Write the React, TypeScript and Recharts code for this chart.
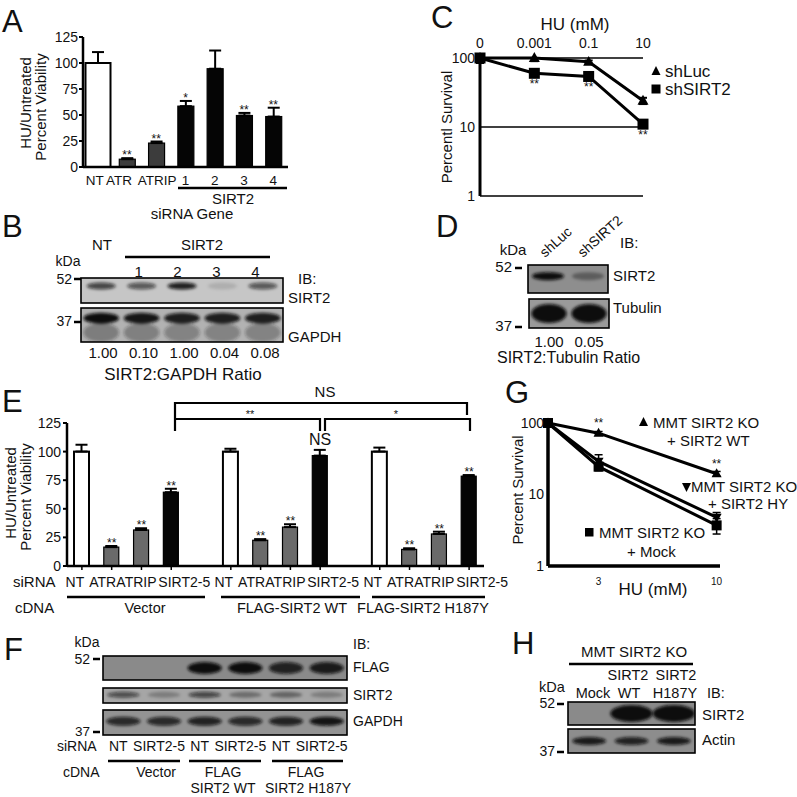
import React from 'react';
import { ComposedChart, Bar, XAxis, YAxis, ErrorBar, Scatter, Line, CartesianGrid, LabelList } from 'recharts';

const FONT = '"Liberation Sans", Arial, Helvetica, sans-serif';
const INK = '#111';

// A: HU viability after siRNA
const aLabels = ['NT', 'ATR', 'ATRIP', '1', '2', '3', '4'];
const aKinds = ['nt', 'ctl', 'ctl', 'si', 'si', 'si', 'si'];
const aValues = [100, 7.5, 23, 58.5, 94.5, 49.5, 48.5];
const aErrors = [10.5, 1, 1.5, 5, 17.5, 2.5, 8.5];
const aSig = ['', '**', '**', '*', '', '**', '**'];

// C: shRNA survival curve
const cDoses = ['0', '0.001', '0.1', '10'];
const cShLuc = [100, 100, 88, 24];
const cShLucErr = [15, 10, 4, 2.5];
const cShSirt2 = [100, 60, 54, 11];
const cShSirt2Err = [15, 4, 5, 1.2];
const cSig = ['', '**', '**', '**'];

// E: rescue experiment
const eGroups = ['Vector', 'FLAG-SIRT2 WT', 'FLAG-SIRT2 H187Y'];
const eSirna = ['NT', 'ATR', 'ATRIP', 'SIRT2-5'];
const eKinds = ['nt', 'ctl', 'ctl', 'si'];
const eValues = [[100, 16.5, 31.5, 64.5], [100, 22.5, 34, 96.5], [100, 14.5, 28, 78.5]];
const eErrors = [[6, 1, 1.5, 3], [2.5, 1, 2.5, 5], [3.5, 1, 2, 1]];
const eSig = [['', '**', '**', '**'], ['', '**', '**', 'NS'], ['', '**', '**', '**']];

// G: MMT SIRT2 KO survival
const gDoses = [0, 3, 10];
const gWt = [100, 72, 19.5];
const gWtErr = [0, 4, 1.5];
const gHy = [100, 29, 4.8];
const gHyErr = [0, 7, 0.8];
const gMock = [100, 24.5, 3.7];
const gMockErr = [0, 3, 0.9];
const gSig = ['', '**', '**'];

// blots (band intensity per lane)
const bLanes = ['NT', '1', '2', '3', '4'];
const bSirt2Band = [0.7, 0.6, 0.9, 0.12, 0.6];
const bGapdhBand = [1, 0.95, 0.9, 0.9, 0.9];
const bRatio = ['1.00', '0.10', '1.00', '0.04', '0.08'];
const dLanes = ['shLuc', 'shSIRT2'];
const dSirt2Band = [1, 0.35];
const dTubulinBand = [1, 1];
const dRatio = ['1.00', '0.05'];
const fSirna = ['NT', 'SIRT2-5', 'NT', 'SIRT2-5', 'NT', 'SIRT2-5'];
const fFlagBand = [0, 0, 1, 1, 0.85, 0.9];
const fSirt2Band = [0.6, 0.25, 0.65, 0.35, 0.4, 0.25];
const fGapdhBand = [0.8, 0.8, 0.85, 0.8, 0.85, 0.95];
const hLanes = ['Mock', 'WT', 'H187Y'];
const hSirt2Band = [0, 1, 1];
const hActinBand = [0.9, 0.85, 0.9];

const aRows = aLabels.map((label, i) => ({
  key: label, label, kind: aKinds[i], value: aValues[i],
  err: [0, aErrors[i]], top: aValues[i] + aErrors[i], sig: aSig[i],
}));

const eRows: any[] = [];
eGroups.forEach((g, gi) => {
  if (gi > 0) eRows.push({ key: 'gap' + gi, label: '', value: null, top: null, sig: '' });
  eSirna.forEach((s, si) => {
    const v = eValues[gi][si];
    const e = eErrors[gi][si];
    eRows.push({ key: g + s, label: s, kind: eKinds[si], value: v, err: [0, e], top: v + e, sig: eSig[gi][si] });
  });
});

const capErr = (v: number, e: number) => (v + e > 100 ? [e, 0] : [e, e]);
const cRows = cDoses.map((d, i) => ({
  i, dose: d, luc: cShLuc[i], lucErr: capErr(cShLuc[i], cShLucErr[i]),
  sirt: cShSirt2[i], sirtErr: capErr(cShSirt2[i], cShSirt2Err[i]), sig: cSig[i],
}));

const gRows = gDoses.map((hu, i) => ({
  hu, wt: gWt[i], wtErr: gWtErr[i], hy: gHy[i], hyErr: gHyErr[i],
  mock: gMock[i], mockErr: gMockErr[i], sig: gSig[i],
}));

const fillOf = (kind: string, gray: string) => (kind === 'nt' ? '#fff' : kind === 'ctl' ? gray : '#050505');

const barShape = (gray: string, ntWidth: number) => (p: any) => {
  if (!p.height || p.payload?.value == null) return <g />;
  const nt = p.payload.kind === 'nt';
  const w = nt ? ntWidth : p.width;
  return (
    <rect x={p.x + p.width / 2 - w / 2} y={p.y} width={w} height={p.height}
      fill={fillOf(p.payload.kind, gray)} stroke="#000" strokeWidth={nt ? 2 : 1.2} />
  );
};

const barStar = (p: any) => {
  const sig = p.payload?.sig;
  if (!sig || p.cy == null) return <g />;
  const ns = sig === 'NS';
  return (
    <text x={p.cx} y={ns ? p.cy - 5 : p.cy + 1} textAnchor="middle" fontSize={ns ? 16 : 12} fill={INK}>{sig}</text>
  );
};

const yTick = (size: number) => (p: any) => (
  <text x={p.x} y={p.y} dy="0.355em" textAnchor="end" fontSize={size} fill={INK}>{p.payload.value}</text>
);

const aOffsets: any = { NT: -3, ATR: -8, ATRIP: 1 };
const eOffsets: any = { NT: -7, ATR: -9, ATRIP: -5, 'SIRT2-5': 13 };
const catTick = (size: number, offsets: any) => (p: any) => {
  const label = p.payload.value;
  const row = [...aRows, ...eRows].find((r) => r.key === label);
  const text = row ? row.label : label;
  return (
    <text x={p.x + (offsets[text] || 0)} y={p.y} dy="0.71em" textAnchor="middle" fontSize={size} fill={INK}>{text}</text>
  );
};

const marker = (shape: string, s: number) => (p: any) => {
  const { cx, cy } = p;
  const key = `${shape}-${p.index}`;
  if (cx == null || cy == null) return <g key={key} />;
  if (shape === 'sq') return <rect key={key} x={cx - s / 2} y={cy - s / 2} width={s} height={s} fill="#000" />;
  const h = s * 0.9;
  const pts = shape === 'up'
    ? `${cx},${cy - h * 0.6} ${cx - s / 2},${cy + h * 0.4} ${cx + s / 2},${cy + h * 0.4}`
    : `${cx},${cy + h * 0.6} ${cx - s / 2},${cy - h * 0.4} ${cx + s / 2},${cy - h * 0.4}`;
  return <polygon key={key} points={pts} fill="#000" />;
};

const starAt = (dy: number) => (p: any) => {
  if (!p.value) return null;
  return <text x={p.x} y={p.y + dy} textAnchor="middle" fontSize={12} fill={INK}>{p.value}</text>;
};

const axisStyle = (w: number) => ({ stroke: '#000', strokeWidth: w });

function PanelA() {
  return (
    <div style={{ position: 'absolute', left: 0, top: 0 }}>
      <ComposedChart width={300} height={215} data={aRows} margin={{ top: 37, right: 12, bottom: 0, left: 0 }}>
        <XAxis dataKey="key" height={48} interval={0} axisLine={axisStyle(2.5)} tickLine={false}
          tickSize={0} tickMargin={8} tick={catTick(13.5, aOffsets)} />
        <YAxis width={83} domain={[0, 125]} ticks={[0, 25, 50, 75, 100, 125]} axisLine={axisStyle(2.5)}
          tickLine={{ stroke: '#000', strokeWidth: 2 }} tickSize={4} tickMargin={1} tick={yTick(14)} />
        <Bar dataKey="value" barSize={16} shape={barShape('#3c3c3c', 25)} isAnimationActive={false}>
          <ErrorBar dataKey="err" width={6} strokeWidth={2} stroke="#000" direction="y" />
        </Bar>
        <Scatter dataKey="top" shape={barStar} isAnimationActive={false} />
      </ComposedChart>
    </div>
  );
}

function PanelC() {
  return (
    <div style={{ position: 'absolute', left: 380, top: 0 }}>
      <ComposedChart width={417} height={215} data={cRows} margin={{ top: 28, right: 154, bottom: 19, left: 0 }}>
        <CartesianGrid vertical={false} stroke="#000" strokeWidth={1.6} />
        <XAxis type="number" dataKey="i" domain={[0, 3]} ticks={[0, 1, 2, 3]} orientation="top" height={30}
          axisLine={false} tickLine={false} tickSize={0} tickMargin={10}
          tick={(p: any) => (
            <text x={p.x} y={p.y} textAnchor="middle" fontSize={14} fill={INK}>{cDoses[p.payload.value]}</text>
          )} />
        <YAxis scale="log" domain={[1, 100]} ticks={[1, 10, 100]} width={100} axisLine={axisStyle(3)}
          tickLine={false} tickSize={0} tickMargin={5} tick={yTick(14)} />
        <Line dataKey="luc" stroke="#000" strokeWidth={3} dot={marker('up', 11)} activeDot={false} isAnimationActive={false}>
          <ErrorBar dataKey="lucErr" width={4} strokeWidth={2} stroke="#000" direction="y" />
        </Line>
        <Line dataKey="sirt" stroke="#000" strokeWidth={3} dot={marker('sq', 11)} activeDot={false} isAnimationActive={false}>
          <ErrorBar dataKey="sirtErr" width={4} strokeWidth={2} stroke="#000" direction="y" />
          <LabelList dataKey="sig" content={starAt(15)} />
        </Line>
      </ComposedChart>
    </div>
  );
}

function PanelE() {
  return (
    <div style={{ position: 'absolute', left: 0, top: 380 }}>
      <ComposedChart width={530} height={240} data={eRows} margin={{ top: 43, right: 46, bottom: 0, left: 0 }}>
        <XAxis dataKey="key" height={54} interval={0} ticks={eRows.filter((r) => r.label).map((r) => r.key)}
          axisLine={axisStyle(2.5)} tickLine={{ stroke: '#000', strokeWidth: 1.5 }} tickSize={4} tickMargin={7}
          tick={catTick(14, eOffsets)} />
        <YAxis width={67} domain={[0, 125]} ticks={[0, 25, 50, 75, 100, 125]} axisLine={axisStyle(2.5)}
          tickLine={{ stroke: '#000', strokeWidth: 2 }} tickSize={4} tickMargin={2} tick={yTick(14)} />
        <Bar dataKey="value" barSize={15} shape={barShape('#6a6a6a', 15)} isAnimationActive={false}>
          <ErrorBar dataKey="err" width={6} strokeWidth={2} stroke="#000" direction="y" />
        </Bar>
        <Scatter dataKey="top" shape={barStar} isAnimationActive={false} />
      </ComposedChart>
    </div>
  );
}

function PanelG() {
  return (
    <div style={{ position: 'absolute', left: 480, top: 380 }}>
      <ComposedChart width={317} height={230} data={gRows} margin={{ top: 43, right: 77, bottom: 0, left: 0 }}>
        <XAxis type="number" dataKey="hu" domain={[0, 10.2]} ticks={[3, 10]} height={44} axisLine={axisStyle(3.5)}
          tickLine={false} tickSize={0} tickMargin={12}
          tick={(p: any) => (
            <text x={p.x} y={p.y} dy="0.71em" textAnchor="middle" fontSize={10} fill={INK}>{p.payload.value}</text>
          )} />
        <YAxis scale="log" domain={[1, 100]} ticks={[1, 10, 100]} width={68} axisLine={axisStyle(3.5)}
          tickLine={false} tickSize={0} tickMargin={4} tick={yTick(14)} />
        <Line dataKey="mock" stroke="#000" strokeWidth={3} dot={marker('sq', 10)} activeDot={false} isAnimationActive={false}>
          <ErrorBar dataKey="mockErr" width={4} strokeWidth={1.5} stroke="#000" direction="y" />
        </Line>
        <Line dataKey="hy" stroke="#000" strokeWidth={3} dot={marker('down', 10)} activeDot={false} isAnimationActive={false}>
          <ErrorBar dataKey="hyErr" width={4} strokeWidth={1.5} stroke="#000" direction="y" />
        </Line>
        <Line dataKey="wt" stroke="#000" strokeWidth={3} dot={marker('up', 10)} activeDot={false} isAnimationActive={false}>
          <ErrorBar dataKey="wtErr" width={4} strokeWidth={1.5} stroke="#000" direction="y" />
          <LabelList dataKey="sig" content={starAt(-6)} />
        </Line>
      </ComposedChart>
    </div>
  );
}

function Blot({ id, x, y, w, h, levels, bg, cy, rx, ry, smear = 0 }: any) {
  const lane = w / levels.length;
  return (
    <g>
      <clipPath id={id}><rect x={x} y={y} width={w} height={h} /></clipPath>
      <rect x={x} y={y} width={w} height={h} fill={bg} />
      <g clipPath={`url(#${id})`}>
        {levels.map((v: number, i: number) => (
          <g key={i} filter="url(#soft)">
            {smear ? (
              <ellipse cx={x + lane * (i + 0.5)} cy={y + h * 0.72} rx={lane * rx} ry={h * 0.28} fill="#222" opacity={v * smear} />
            ) : null}
            <ellipse cx={x + lane * (i + 0.5)} cy={y + h * cy} rx={lane * rx} ry={ry} fill="#0b0b0b" opacity={v} />
          </g>
        ))}
      </g>
      <rect x={x} y={y} width={w} height={h} fill="none" stroke="#000" strokeWidth={1.6} />
    </g>
  );
}

const T = ({ x, y, s = 15, a = 'start', rot, children }: any) => (
  <text x={x} y={y} fontSize={s} textAnchor={a} fill={INK}
    transform={rot ? `rotate(${rot} ${x} ${y})` : undefined}>{children}</text>
);
const Dash = ({ x, y }: any) => <rect x={x} y={y - 1.25} width={7} height={2.5} fill="#000" />;
const HLine = ({ x1, x2, y, w = 2.5 }: any) => <line x1={x1} x2={x2} y1={y} y2={y} stroke="#000" strokeWidth={w} />;

function Overlay() {
  const bLane = 202 / bLanes.length;
  const fLane = 244 / fSirna.length;
  return (
    <svg width={797} height={797} style={{ position: 'absolute', left: 0, top: 0 }} fontFamily={FONT}>
      <defs>
        <filter id="soft" x="-50%" y="-80%" width="200%" height="260%">
          <feGaussianBlur stdDeviation="1.6" />
        </filter>
      </defs>

      {/* panel letters */}
      <T x={2} y={32} s={31}>A</T>
      <T x={2} y={237} s={31}>B</T>
      <T x={431} y={28} s={31}>C</T>
      <T x={436} y={237} s={31}>D</T>
      <T x={2} y={412} s={31}>E</T>
      <T x={4} y={660} s={31}>F</T>
      <T x={505} y={403} s={31}>G</T>
      <T x={512} y={654} s={31}>H</T>

      {/* A */}
      <T x={31} y={103} a="middle" rot={-90}>HU/Untreated</T>
      <T x={46} y={107} a="middle" rot={-90}>Percent Viability</T>
      <HLine x1={178} x2={287} y={188} />
      <T x={233} y={204} a="middle">SIRT2</T>
      <T x={192} y={219} a="middle">siRNA Gene</T>

      {/* B */}
      <T x={102} y={250} a="middle">{bLanes[0]}</T>
      <T x={202} y={250} a="middle">SIRT2</T>
      <HLine x1={125} x2={270} y={257} />
      {bLanes.slice(1).map((l, i) => (
        <T key={l} x={81 + bLane * (i + 1.5) - 3 - i * 1.5} y={277} a="middle">{l}</T>
      ))}
      <T x={68} y={266} s={14} a="middle">kDa</T>
      <T x={72} y={284} s={14} a="end">52</T>
      <Dash x={74} y={279} />
      <T x={72} y={326} s={14} a="end">37</T>
      <Dash x={74} y={322} />
      <T x={298} y={284}>IB:</T>
      <Blot id="b1" x={81} y={278} w={202} h={25} levels={bSirt2Band} bg="#c6c6c6" cy={0.32} rx={0.36} ry={3.5} />
      <Blot id="b2" x={81} y={308} w={202} h={34} levels={bGapdhBand} bg="#b2b2b2" cy={0.3} rx={0.44} ry={5.5} smear={0.35} />
      <T x={288} y={303}>SIRT2</T>
      <T x={288} y={342}>GAPDH</T>
      {bRatio.map((r, i) => <T key={i} x={103 + i * 40.5} y={358} a="middle">{r}</T>)}
      <T x={183} y={380} s={17} a="middle">SIRT2:GAPDH Ratio</T>

      {/* C */}
      <T x={575} y={30} s={17} a="middle">HU (mM)</T>
      <T x={452} y={127} a="middle" rot={-90}>Percentl Survival</T>
      <polygon points="656,66 651.5,75 660.5,75" fill="#000" />
      <rect x={651.5} y={84.5} width={9} height={9} fill="#000" />
      <T x={665} y={77} s={17}>shLuc</T>
      <T x={665} y={95} s={17}>shSIRT2</T>

      {/* D */}
      <T x={513} y={255} a="middle">kDa</T>
      <T x={512} y={272} a="end">52</T>
      <Dash x={515} y={268} />
      <T x={512} y={331} a="end">37</T>
      <Dash x={515} y={327} />
      {dLanes.map((l, i) => (
        <T key={l} x={545 + i * 38} y={258} s={14} rot={-42}>{l}</T>
      ))}
      <T x={620} y={248}>IB:</T>
      <Blot id="d1" x={528} y={265} w={80} h={28} levels={dSirt2Band} bg="#8e8e8e" cy={0.4} rx={0.4} ry={4} />
      <Blot id="d2" x={529} y={299} w={80} h={29} levels={dTubulinBand} bg="#9a9a9a" cy={0.5} rx={0.44} ry={9.5} />
      <T x={613} y={281}>SIRT2</T>
      <T x={613} y={313}>Tubulin</T>
      {dRatio.map((r, i) => <T key={i} x={549 + i * 40} y={347} a="middle">{r}</T>)}
      <T x={497} y={363} s={16}>SIRT2:Tubulin Ratio</T>

      {/* E */}
      <T x={16} y={493} a="middle" rot={-90}>HU/Untreated</T>
      <T x={31} y={497} a="middle" rot={-90}>Percent Viability</T>
      <path d="M175 418 V403 H467 V415" fill="none" stroke="#000" strokeWidth={2.2} />
      <path d="M175 431 V419 H320 V431" fill="none" stroke="#000" strokeWidth={2.2} />
      <path d="M325 431 V419 H470 V431" fill="none" stroke="#000" strokeWidth={2.2} />
      <T x={325} y={397} a="middle">NS</T>
      <T x={250} y={418} s={11} a="middle">**</T>
      <T x={396} y={418} s={11} a="middle">*</T>
      <T x={13} y={587}>siRNA</T>
      <T x={15} y={613}>cDNA</T>
      <HLine x1={67} x2={205} y={597} />
      <HLine x1={221} x2={360} y={597} />
      <HLine x1={372} x2={485} y={597} />
      <T x={145} y={613} s={14.5} a="middle">{eGroups[0]}</T>
      <T x={292} y={613} s={14.5} a="middle">{eGroups[1]}</T>
      <T x={423} y={613} s={14.5} a="middle">{eGroups[2]}</T>

      {/* F */}
      <T x={87} y={647} s={14} a="middle">kDa</T>
      <T x={90} y={664} s={14} a="end">52</T>
      <Dash x={93} y={659} />
      <T x={90} y={736} s={13.5} a="end">37</T>
      <Dash x={93} y={732} />
      <T x={353} y={649} s={14}>IB:</T>
      <Blot id="f1" x={103} y={656} w={244} h={24} levels={fFlagBand} bg="#8a8a8a" cy={0.5} rx={0.42} ry={6} />
      <Blot id="f2" x={103} y={688} w={244} h={15} levels={fSirt2Band} bg="#a6a6a6" cy={0.45} rx={0.4} ry={3} />
      <Blot id="f3" x={103} y={710} w={244} h={25} levels={fGapdhBand} bg="#939393" cy={0.45} rx={0.42} ry={4.5} />
      <T x={353} y={672} s={14}>FLAG</T>
      <T x={353} y={700} s={14}>SIRT2</T>
      <T x={353} y={726} s={14}>GAPDH</T>
      <T x={57} y={751} s={14}>siRNA</T>
      {fSirna.map((s, i) => (
        <T key={i} x={103 + fLane * (i + 0.5) - 5} y={751} s={14} a="middle">{s}</T>
      ))}
      <HLine x1={108} x2={180} y={761} />
      <HLine x1={189} x2={261} y={761} />
      <HLine x1={272} x2={343} y={761} />
      <T x={63} y={777} s={14}>cDNA</T>
      <T x={156} y={777} s={14} a="middle">Vector</T>
      <T x={223} y={777} s={14} a="middle">FLAG</T>
      <T x={223} y={793} s={14} a="middle">SIRT2 WT</T>
      <T x={306} y={777} s={14} a="middle">FLAG</T>
      <T x={308} y={793} s={14} a="middle">SIRT2 H187Y</T>

      {/* G */}
      <T x={523} y={490} a="middle" rot={-90}>Percent Survival</T>
      <T x={653} y={595} s={17} a="middle">HU (mM)</T>
      <polygon points="643.5,417 639,426 648,426" fill="#000" />
      <T x={653} y={428}>MMT SIRT2 KO</T>
      <T x={667} y={446}>+ SIRT2 WT</T>
      <polygon points="686.5,492 682,483 691,483" fill="#000" />
      <T x={691} y={492}>MMT SIRT2 KO</T>
      <T x={708} y={509}>+ SIRT2 HY</T>
      <rect x={585} y={528} width={8.5} height={8.5} fill="#000" />
      <T x={599} y={538}>MMT SIRT2 KO</T>
      <T x={627} y={557}>+ Mock</T>

      {/* H */}
      <T x={634} y={657} a="middle">MMT SIRT2 KO</T>
      <HLine x1={569} x2={693} y={664} />
      <T x={628} y={680} s={14.5} a="middle">SIRT2</T>
      <T x={676} y={680} s={14.5} a="middle">SIRT2</T>
      {hLanes.map((l, i) => (
        <T key={l} x={[593, 629, 675][i]} y={698} s={14.5} a="middle">{l}</T>
      ))}
      <T x={707} y={698} s={14.5}>IB:</T>
      <T x={552} y={692} s={14.5} a="middle">kDa</T>
      <T x={555} y={708} s={14} a="end">52</T>
      <Dash x={557} y={704} />
      <T x={555} y={756} s={14} a="end">37</T>
      <Dash x={557} y={752} />
      <Blot id="h1" x={568} y={702} w={127} h={23} levels={hSirt2Band} bg="#8a8a8a" cy={0.5} rx={0.5} ry={8.5} />
      <Blot id="h2" x={568} y={729} w={127} h={24} levels={hActinBand} bg="#8d8d8d" cy={0.5} rx={0.4} ry={4} />
      <T x={702} y={720}>SIRT2</T>
      <T x={702} y={745}>Actin</T>
    </svg>
  );
}

export default function App() {
  return (
    <div style={{ position: 'absolute', left: 0, top: 0, width: 797, height: 797, background: '#fff', fontFamily: FONT, overflow: 'hidden' }}>
      <PanelA />
      <PanelC />
      <PanelE />
      <PanelG />
      <Overlay />
    </div>
  );
}
